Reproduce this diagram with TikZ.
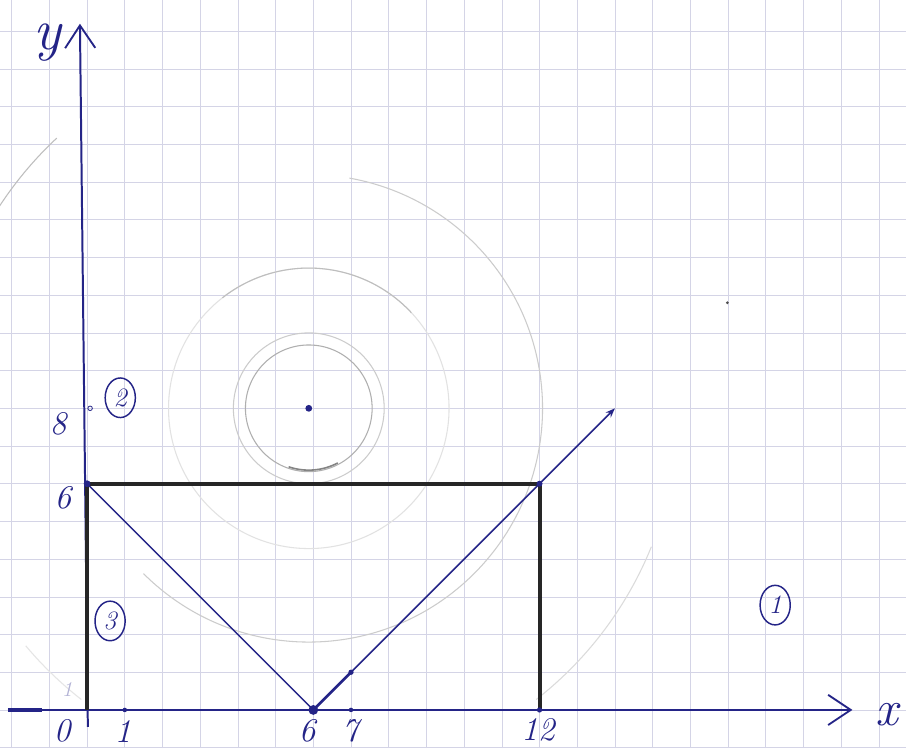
\documentclass[tikz,border=0pt]{standalone}
\usepackage{tikz}
\usetikzlibrary{arrows.meta,shapes.geometric}
\definecolor{ink}{RGB}{36,36,135}
\definecolor{paperline}{RGB}{212,212,230}
\definecolor{pencil}{RGB}{110,110,110}

\begin{document}
\begin{tikzpicture}[
  x=1cm,
  y=1cm,
  every node/.style={font=\fontsize{25}{25}\selectfont\itshape, text=ink, inner sep=0pt},
  paper/.style={draw=paperline, line width=0.45pt},
  axis/.style={
    draw=ink,
    line width=1.5pt,
    -{Straight Barb[length=6mm,width=8mm,line width=1.4pt]}
  },
  bold/.style={draw=black!85, line width=3pt, line join=round},
  pen/.style={draw=ink, line width=1.2pt},
  sketch/.style={draw=pencil!#1, line width=0.8pt},
  sketch/.default=60,
  tag/.style={
    draw=ink,
    line width=1.1pt,
    ellipse,
    minimum width=0.8cm,
    minimum height=1.05cm,
    font=\fontsize{20}{20}\selectfont\itshape
  }
]
\useasboundingbox (-2.31,-1.01) rectangle (21.72,18.83);
\fill[white] (-2.31,-1.01) rectangle (21.72,18.83);
\draw[paper] (-2.31,-1.01) grid (21.72,18.83);

\coordinate (O) at (0,0);
\coordinate (A) at (0,6);
\coordinate (B) at (12,6);
\coordinate (C) at (12,0);
\coordinate (V) at (6,0);
\coordinate (T) at (7,1);
\coordinate (P) at (14,8);
\coordinate (M) at (5.88,8);
\coordinate (one) at (1,0);
\coordinate (seven) at (7,0);
\coordinate (xstart) at (-2.1,0);
\coordinate (xthick) at (-1.2,0);
\coordinate (xend) at (20.3,0);
\coordinate (ystart) at (0.02,-0.45);
\coordinate (yend) at (-0.19,18.2);

\draw[sketch=55] (M) circle[radius=1.68];
\draw[sketch=35] (M) circle[radius=2];
\draw[sketch=20] (M) circle[radius=3.72];
\draw[sketch=45] ([shift={(43:3.72)}]M) arc[start angle=43, end angle=128, radius=3.72];
\draw[sketch=35] ([shift={(-135:6.2)}]M) arc[start angle=-135, end angle=80, radius=6.2];
\draw[sketch=45] ([shift={(133:9.8)}]M) arc[start angle=133, end angle=152, radius=9.8];
\draw[sketch=18] ([shift={(220:9.8)}]M) arc[start angle=220, end angle=232, radius=9.8];
\draw[sketch=25] ([shift={(-52:9.8)}]M) arc[start angle=-52, end angle=-22, radius=9.8];
\draw[sketch=85, line width=1.2pt] ([shift={(251:1.64)}]M) arc[start angle=251, end angle=298, radius=1.64];

\draw[axis] (xstart) -- (xend);
\draw[pen, line width=3pt] (xstart) -- (xthick);
\draw[axis] (ystart) -- (yend);

\draw[bold] (O) -- (A) -- (B) -- (C);
\draw[pen] (A) -- (V);
\draw[pen, -{Stealth[length=2.5mm]}] (V) -- (P);
\draw[pen, line width=2pt] (V) -- (T);

\fill[ink] (V) circle[radius=0.13];
\fill[ink] (A) circle[radius=0.09];
\fill[ink] (B) circle[radius=0.08];
\fill[ink] (C) circle[radius=0.07];
\fill[ink] (T) circle[radius=0.07];
\fill[ink] (one) circle[radius=0.06];
\fill[ink] (seven) circle[radius=0.06];
\fill[ink] (M) circle[radius=0.09];
\draw[ink, line width=0.6pt] (0.08,8) circle[radius=0.06];
\fill[black!70] (16.98,10.8) circle[radius=0.04];

\node[font=\fontsize{44}{44}\selectfont\itshape] (ylabel) at (-1.06,17.7) {y};
\node[font=\fontsize{38}{38}\selectfont\itshape] (xlabel) at (21.22,-0.12) {x};
\node (zero) at (-0.66,-0.55) {0};
\node (xone) at (0.95,-0.56) {1};
\node (xsix) at (5.84,-0.55) {6};
\node (xseven) at (6.98,-0.55) {7};
\node (xtwelve) at (11.96,-0.54) {12};
\node (ysix) at (-0.64,5.62) {6};
\node (yeight) at (-0.77,7.6) {8};
\node[text=ink!35, font=\fontsize{16}{16}\selectfont\itshape] (yone) at (-0.53,0.55) {1};

\node[tag] (region2) at (0.88,8.28) {2};
\node[tag] (region3) at (0.61,2.36) {3};
\node[tag] (region1) at (18.25,2.78) {1};
\end{tikzpicture}
\end{document}
